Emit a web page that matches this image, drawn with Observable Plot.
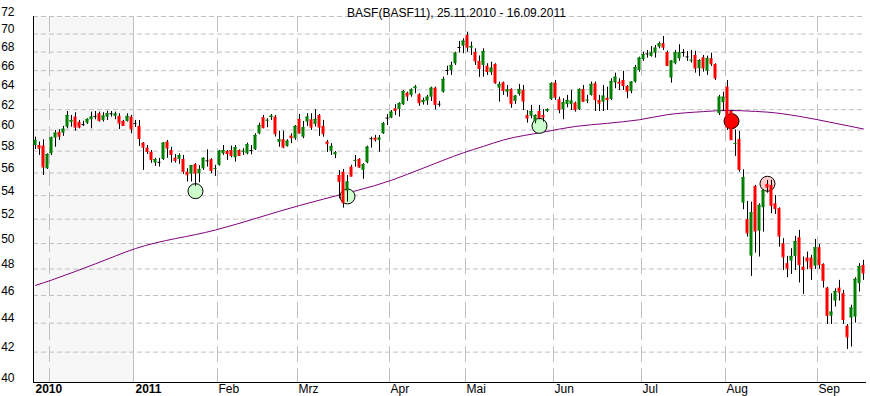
<!DOCTYPE html>
<html><head><meta charset="utf-8">
<script src="https://cdn.jsdelivr.net/npm/d3@7"></script>
<script src="https://cdn.jsdelivr.net/npm/@observablehq/plot@0.6"></script>
<style>
html,body{margin:0;padding:0;background:#fff;}
svg{display:block;}
</style></head><body><div id="chart"></div>
<script>
const title = "BASF(BASF11), 25.11.2010 - 16.09.2011";
const startDate = "2010-11-25", endDate = "2011-09-16";
const holidays = ["2010-12-24","2010-12-31","2011-04-22","2011-04-25"];

const open = [58.53,58.53,58.47,56.38,57.75,59.23,59.77,59.70,60.28,60.74,61.26,60.74,60.54,60.67,61.00,61.33,61.59,60.93,61.26,61.59,61.35,61.33,60.84,60.84,61.26,
60.64,60.35,58.75,58.28,57.90,56.90,56.97,57.23,58.85,58.06,57.35,57.23,57.23,56.07,55.89,56.75,55.93,56.38,57.10,57.21,56.36,
56.69,57.75,57.97,58.06,57.39,58.06,57.95,57.75,58.06,58.13,59.64,61.20,60.90,61.20,61.26,58.82,59.07,58.44,59.42,59.17,
61.03,59.32,60.77,61.00,60.54,61.42,60.35,58.85,57.99,57.66,55.78,56.07,54.39,56.53,57.10,57.23,56.23,56.93,59.17,59.23,59.01,59.64,61.16,
61.16,62.08,62.01,62.49,63.66,63.43,64.11,63.50,62.69,62.85,63.25,64.17,62.54,63.76,66.02,66.02,66.74,68.50,68.65,69.84,68.43,
67.96,66.99,66.56,66.48,65.78,66.66,64.17,64.73,63.76,64.04,62.82,63.53,63.93,61.42,61.35,60.84,61.81,61.42,61.81,63.02,
64.69,62.99,62.01,62.52,62.52,62.65,62.01,64.04,62.90,63.43,64.63,62.92,62.75,63.15,63.02,64.73,64.80,64.97,64.35,63.83,64.80,
66.02,67.17,67.80,67.52,67.88,68.54,68.92,67.96,65.22,66.74,67.28,67.96,67.48,67.07,67.63,66.20,67.38,65.95,67.28,66.66,61.59,62.69,
64.28,61.81,58.68,59.10,53.36,51.95,49.00,54.81,51.01,52.96,54.98,54.89,53.30,52.88,49.98,48.41,48.61,48.98,50.47,48.14,48.85,48.85,48.22,
49.67,48.35,46.55,44.50,45.59,46.55,46.13,43.79,44.36,44.43,46.88,48.27];
const high = [59.32,58.85,59.07,57.75,59.32,59.96,60.02,60.35,61.81,61.42,61.69,60.93,60.86,61.10,61.75,61.81,61.75,61.69,61.84,61.81,61.75,61.59,60.93,61.59,61.42,
60.93,60.93,58.80,58.53,58.06,57.33,57.33,58.80,59.01,58.37,57.69,57.75,57.60,56.38,56.69,56.84,56.66,57.39,58.12,57.30,56.69,
58.06,58.53,58.06,58.47,58.53,58.12,58.22,58.75,58.53,59.64,60.67,61.42,61.10,61.52,61.42,59.89,59.89,59.07,59.64,60.44,
61.52,60.84,61.59,61.59,61.98,61.52,60.93,59.01,58.70,57.97,56.23,56.32,55.78,56.69,57.60,57.30,56.84,58.47,59.32,59.48,59.48,60.74,61.52,
61.91,62.49,62.69,63.93,63.76,64.11,64.45,63.60,63.15,63.43,64.28,64.28,62.82,65.32,66.48,66.91,67.99,69.17,69.47,70.21,69.10,
68.36,67.58,68.36,66.74,66.91,66.74,64.80,64.80,64.45,64.11,63.43,64.56,64.45,61.91,62.42,61.49,62.42,62.01,62.08,64.73,
64.97,63.25,63.09,63.43,63.93,62.75,64.11,64.45,63.43,64.80,64.80,63.43,64.45,64.28,65.15,65.74,65.15,65.94,64.45,64.85,66.56,
67.45,67.99,68.18,68.62,68.73,69.10,69.72,68.10,67.09,68.18,68.80,68.29,68.07,68.18,68.10,67.17,67.63,67.56,67.88,66.74,63.43,63.76,
64.97,61.91,60.02,59.86,56.29,53.50,53.44,54.90,53.30,54.50,55.34,55.34,54.01,52.95,50.39,48.98,49.59,50.58,51.07,48.93,49.32,49.06,50.33,
49.93,48.40,46.60,46.13,46.50,47.13,46.38,43.91,45.28,47.33,48.41,48.67];
const low = [58.16,57.60,55.78,56.32,57.60,58.37,59.01,59.39,60.12,60.28,59.89,60.12,60.35,60.54,60.12,61.00,60.77,60.77,60.93,61.26,61.00,60.05,60.35,60.77,59.64,
60.25,58.44,56.23,57.69,56.87,56.59,56.53,57.14,57.33,56.90,56.90,56.78,55.87,55.19,55.19,54.81,55.13,56.23,56.53,55.93,55.69,
56.62,57.60,57.14,57.39,56.99,57.51,57.60,57.66,57.66,58.06,59.55,60.12,60.22,60.93,59.32,58.37,58.22,58.37,58.70,59.01,
59.64,59.17,60.35,59.96,60.28,59.39,59.32,57.87,57.60,57.30,53.73,52.93,53.44,55.63,56.53,56.44,55.43,56.84,58.28,58.85,57.90,59.58,60.44,
61.10,61.42,61.26,62.42,62.82,63.25,63.60,62.34,62.45,62.42,62.82,61.98,62.24,63.66,65.50,65.50,66.56,67.92,67.82,67.99,67.63,
66.56,65.29,65.32,65.50,65.50,64.56,62.75,63.43,63.25,62.14,62.52,63.36,61.91,60.67,61.10,60.61,61.00,60.77,61.72,62.92,
62.92,61.59,61.00,62.18,61.91,61.75,61.91,62.75,62.59,63.36,61.81,61.81,61.81,61.91,62.92,64.11,63.93,63.93,63.09,63.60,64.69,
65.84,66.99,67.34,67.45,67.34,68.36,68.18,66.45,64.69,66.63,66.99,67.45,66.99,66.81,65.74,65.39,65.84,65.50,66.45,64.97,61.42,61.84,
59.96,59.01,57.51,56.07,52.79,50.52,47.43,49.24,48.93,50.93,54.21,52.45,52.39,49.71,47.88,47.33,47.58,47.88,46.93,46.07,47.94,47.13,47.96,
47.98,46.55,43.91,43.91,45.15,45.59,43.91,42.18,42.34,44.00,46.25,47.13];
const close = [59.01,58.28,56.53,57.69,59.26,59.70,59.41,60.08,61.42,60.93,60.28,60.28,60.54,61.03,61.26,61.33,60.93,61.35,61.59,61.59,61.55,60.67,60.44,61.33,60.12,
60.64,59.20,58.37,57.97,57.21,57.23,56.97,58.75,58.28,57.69,57.14,57.57,56.14,55.84,56.66,55.98,56.32,57.33,57.10,56.23,56.40,
57.99,58.06,57.78,57.60,58.32,57.60,57.99,58.60,58.06,59.48,60.44,60.22,60.95,61.35,59.64,59.07,58.37,58.94,59.26,60.35,
59.70,60.22,61.26,60.28,61.03,60.28,59.64,58.70,58.44,57.84,55.25,53.39,55.19,55.72,57.14,56.53,56.75,58.37,59.17,59.07,59.23,60.61,61.16,
61.75,61.91,62.59,63.83,63.36,64.00,64.28,62.69,62.92,63.25,64.17,62.52,62.54,65.08,66.02,66.56,67.88,68.50,69.21,68.54,68.62,
67.04,66.23,68.07,65.91,66.27,64.73,64.56,63.93,64.00,62.59,63.36,64.04,62.85,61.16,61.81,61.42,61.20,61.26,62.01,64.63,
63.25,62.01,62.69,62.92,62.85,62.01,64.04,62.82,62.94,64.56,62.99,62.65,63.36,63.02,64.87,65.32,64.69,64.45,63.86,64.80,66.34,
67.34,67.73,67.80,67.92,68.43,68.92,68.54,66.56,67.02,67.92,67.92,67.96,67.48,67.11,66.27,67.09,66.27,67.28,66.74,65.22,63.25,63.25,
60.28,59.07,58.72,56.32,55.58,50.85,52.54,51.01,53.16,54.45,54.74,53.16,52.88,50.60,48.93,48.06,48.98,50.17,48.33,47.96,48.61,48.06,49.67,
48.35,47.13,44.55,44.79,46.30,46.25,44.26,43.03,45.08,47.21,48.19,47.68];

const maIndex = [0,4,15,25,45,66,72,89,97,107,112,117,127,135,143,151,158,167,173,180,183,191,200,207];
const maValue = [46.75,47.15,48.4,49.6,51.1,53.15,53.7,55.35,56.45,57.85,58.45,59.05,59.8,60.35,60.65,61.0,61.5,61.8,61.92,61.82,61.75,61.33,60.65,60.1];

const signalIndex = [40,78,126,174,183];
const signalPrice = [54.39,53.93,60.40,60.86,55.04];
const signalFill = ["#ccffcc","#ccffcc","#ccffcc","#ff0000","#ffcccc"];

const yTicks = [40,42,44,46,48,50,52,54,56,58,60,62,64,66,68,70,72];
const monthNames = ["Jan","Feb","Mrz","Apr","Mai","Jun","Jul","Aug","Sep","Okt","Nov","Dez"];

const fmt = d3.utcFormat("%Y-%m-%d");
const dates = d3.utcDays(new Date(startDate), d3.utcDay.offset(new Date(endDate), 1))
  .filter(d => d.getUTCDay() % 6 !== 0 && !holidays.includes(fmt(d)))
  .map(fmt);

const candles = dates.map((d, i) => ({date: d, open: open[i], high: high[i], low: low[i], close: close[i],
  color: close[i] > open[i] ? "#008000" : close[i] < open[i] ? "#ff0000" : "#000000"}));

const monthStarts = dates.filter((d, i) => i > 0 && d.slice(0, 7) !== dates[i - 1].slice(0, 7));
const yearStarts = [dates[0], ...monthStarts.filter(d => d.slice(5, 7) === "01")];
const monthLabelDates = monthStarts.filter(d => d.slice(5, 7) !== "01" && d.slice(5, 7) !== "12");
const dashedGrid = monthStarts.filter(d => d.slice(5, 7) !== "01");
const solidGrid = monthStarts.filter(d => d.slice(5, 7) === "01");

const ma = maIndex.map((k, j) => ({date: dates[k], value: maValue[j]}));
const signals = signalIndex.map((k, j) => ({date: dates[k], price: signalPrice[j], fill: signalFill[j]}));

const font = "'Liberation Sans',Arial,sans-serif";

const chart = Plot.plot({
  width: 870, height: 396,
  marginLeft: 33, marginRight: 5, marginTop: 16, marginBottom: 14,
  x: {type: "band", domain: dates, padding: 0, axis: null},
  y: {type: "log", domain: [40, 72], axis: null},
  color: {type: "identity"},
  style: {fontFamily: font, fontSize: "12px", background: "white", color: "black"},
  marks: [
    Plot.barY(candles.filter(d => d.date < "2011-01-01"), {x: "date", y1: 40, y2: 72, fill: "#f7f7f7"}),
    Plot.ruleY(yTicks.filter(v => v > 40), {stroke: "#c0c0c0", strokeDasharray: "5,3"}),
    Plot.ruleX(dashedGrid, {x: d => d, stroke: "#c0c0c0", strokeDasharray: "16,6", dx: -2}),
    Plot.ruleX(solidGrid, {x: d => d, stroke: "#c0c0c0", dx: -2}),
    Plot.frame({anchor: "left", stroke: "black"}),
    Plot.frame({anchor: "bottom", stroke: "black"}),
    Plot.line(ma, {x: "date", y: "value", stroke: "#800080", strokeWidth: 1, curve: "monotone-x"}),
    Plot.dot(signals, {x: "date", y: "price", r: 7.5, fill: "fill", stroke: "black", strokeWidth: 1}),
    Plot.ruleX(candles, {x: "date", y1: "low", y2: "high", stroke: "black"}),
    Plot.barY(candles, {x: "date", y1: "open", y2: "close", fill: "color", insetLeft: 0.5, insetRight: 0.5}),
    Plot.tickY(candles, {x: "date", y: "close", stroke: "color", insetLeft: 0.5, insetRight: 0.5}),
    Plot.axisY(yTicks, {anchor: "left", label: null, tickSize: 0, tickPadding: 19, textAnchor: "end", dy: -4.5, tickFormat: d => String(d), fill: "black"}),
    Plot.axisX(monthLabelDates, {anchor: "bottom", label: null, tickSize: 0, tickPadding: 2, textAnchor: "start", dx: -1, tickFormat: d => monthNames[+d.slice(5, 7) - 1], fill: "black"}),
    Plot.axisX(yearStarts, {anchor: "bottom", label: null, tickSize: 0, tickPadding: 2, textAnchor: "start", dx: 0, tickFormat: d => d.slice(0, 4), fontWeight: "bold", fill: "black"}),
    Plot.text([title], {frameAnchor: "top", dx: 7, dy: -8.2, fontSize: 12, fill: "black"})
  ]
});
document.getElementById("chart").appendChild(chart);
</script></body></html>
